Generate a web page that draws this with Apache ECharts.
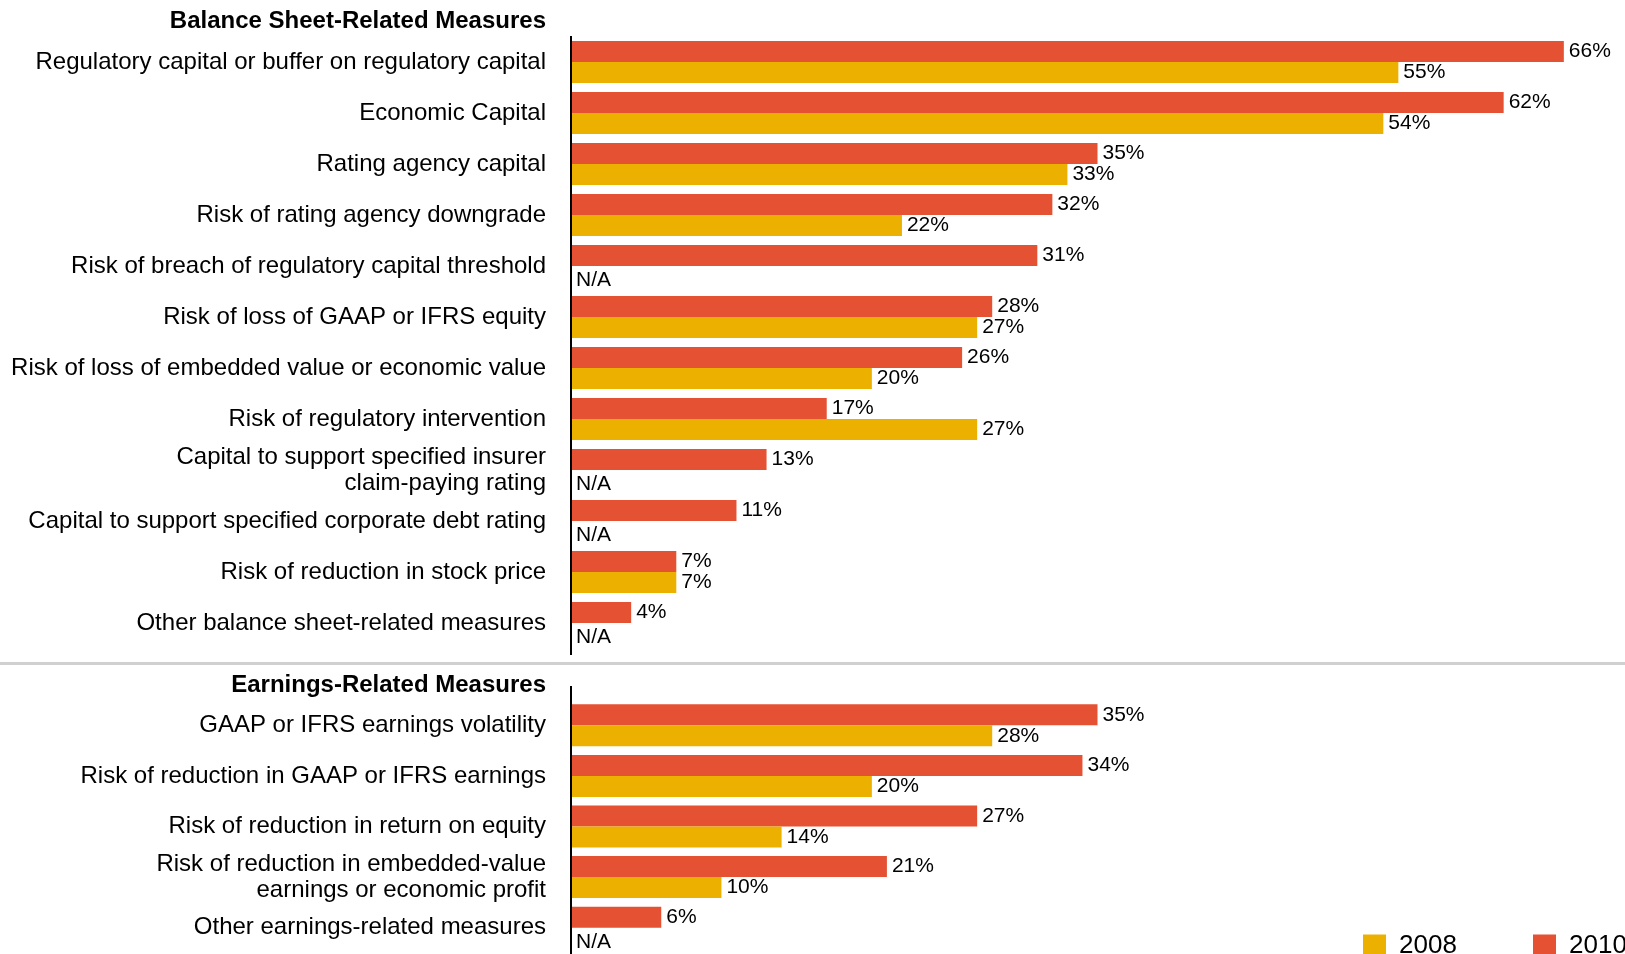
<!DOCTYPE html>
<html>
<head>
<meta charset="utf-8">
<title>Balance Sheet and Earnings-Related Measures</title>
<script src="https://cdn.jsdelivr.net/npm/echarts@6/dist/echarts.min.js"></script>
<style>
  html, body { margin: 0; padding: 0; background: #ffffff; }
  #chart { width: 1625px; height: 954px; }
</style>
</head>
<body>
<div id="chart"></div>
<script>
// Balance sheet-related measures (percent of respondents)
const balanceCategories = [
  'Regulatory capital or buffer on regulatory capital',
  'Economic Capital',
  'Rating agency capital',
  'Risk of rating agency downgrade',
  'Risk of breach of regulatory capital threshold',
  'Risk of loss of GAAP or IFRS equity',
  'Risk of loss of embedded value or economic value',
  'Risk of regulatory intervention',
  'Capital to support specified insurer\nclaim-paying rating',
  'Capital to support specified corporate debt rating',
  'Risk of reduction in stock price',
  'Other balance sheet-related measures'
];
const balance2010 = [66, 62, 35, 32, 31, 28, 26, 17, 13, 11, 7, 4];
const balance2008 = [55, 54, 33, 22, null, 27, 20, 27, null, null, 7, null];

// Earnings-related measures
const earningsCategories = [
  'GAAP or IFRS earnings volatility',
  'Risk of reduction in GAAP or IFRS earnings',
  'Risk of reduction in return on equity',
  'Risk of reduction in embedded-value\nearnings or economic profit',
  'Other earnings-related measures'
];
const earnings2010 = [35, 34, 27, 21, 6];
const earnings2008 = [28, 20, 14, 10, null];

const sectionTitles = ['Balance Sheet-Related Measures', 'Earnings-Related Measures'];
const seriesNames = ['2008', '2010'];

const COLOR_2008 = '#EBB000';
const COLOR_2010 = '#E45133';
const FONT = "'Liberation Sans', Arial, Helvetica, sans-serif";

const W = 1625;
const AXIS_X = 571;
const TOP_GRID = { top: 36.5, height: 612 };
const BOTTOM_GRID = { top: 700, height: 253 };

// Missing responses are drawn as zero-length bars labelled "N/A"
function toData(arr) {
  return arr.map(v => v == null
    ? { value: 0, label: { formatter: 'N/A', offset: [0, 4] } }
    : v);
}

const labelStyle = {
  show: true,
  position: 'right',
  distance: 5,
  color: '#000',
  fontSize: 21,
  fontFamily: FONT,
  formatter: p => p.value + '%'
};

function barSeries(name, data, color, idx) {
  return {
    name: name,
    type: 'bar',
    xAxisIndex: idx,
    yAxisIndex: idx,
    data: toData(data),
    barWidth: 21,
    barGap: '0%',
    itemStyle: { color: color },
    label: labelStyle,
    emphasis: { disabled: true }
  };
}

function catAxis(cats, idx) {
  return {
    type: 'category',
    gridIndex: idx,
    data: cats,
    inverse: true,
    axisLine: { show: false },
    axisTick: { show: false },
    axisLabel: {
      margin: 25,
      color: '#000',
      fontSize: 24,
      lineHeight: 26,
      fontFamily: FONT,
      align: 'right'
    }
  };
}

function valAxis(idx) {
  return {
    type: 'value',
    gridIndex: idx,
    min: 0,
    max: 70,
    show: false
  };
}

function legendItem(name, left) {
  return {
    data: [name],
    left: left,
    top: 933,
    itemWidth: 23,
    itemHeight: 23,
    icon: 'rect',
    padding: 0,
    selectedMode: false,
    textStyle: { fontSize: 26, lineHeight: 23, color: '#000', fontFamily: FONT, padding: [0, 0, 0, 8] }
  };
}

const chart = echarts.init(document.getElementById('chart'), null, { renderer: 'canvas' });

const option = {
  animation: false,
  backgroundColor: '#ffffff',
  textStyle: { fontFamily: FONT },
  title: [
    {
      text: sectionTitles[0],
      right: W - 546,
      top: 8,
      padding: 0,
      textStyle: { fontSize: 24, fontWeight: 'bold', color: '#000', fontFamily: FONT, lineHeight: 26 }
    },
    {
      text: sectionTitles[1],
      right: W - 546,
      top: 672,
      padding: 0,
      textStyle: { fontSize: 24, fontWeight: 'bold', color: '#000', fontFamily: FONT, lineHeight: 26 }
    }
  ],
  legend: [legendItem(seriesNames[0], 1363), legendItem(seriesNames[1], 1533)],
  grid: [
    { left: AXIS_X, right: 1, top: TOP_GRID.top, height: TOP_GRID.height, containLabel: false },
    { left: AXIS_X, right: 1, top: BOTTOM_GRID.top, height: BOTTOM_GRID.height, containLabel: false }
  ],
  xAxis: [valAxis(0), valAxis(1)],
  yAxis: [catAxis(balanceCategories, 0), catAxis(earningsCategories, 1)],
  series: [
    barSeries('2010', balance2010, COLOR_2010, 0),
    barSeries('2008', balance2008, COLOR_2008, 0),
    barSeries('2010', earnings2010, COLOR_2010, 1),
    barSeries('2008', earnings2008, COLOR_2008, 1)
  ],
  graphic: [
    // section divider
    {
      type: 'line',
      shape: { x1: 0, y1: 663.5, x2: W, y2: 663.5 },
      style: { stroke: '#d0d0d0', lineWidth: 3 },
      silent: true
    },
    // vertical baselines of both panels
    {
      type: 'line',
      shape: { x1: AXIS_X, y1: 36, x2: AXIS_X, y2: 655 },
      style: { stroke: '#000', lineWidth: 2 },
      z: 10,
      silent: true
    },
    {
      type: 'line',
      shape: { x1: AXIS_X, y1: 686, x2: AXIS_X, y2: 954 },
      style: { stroke: '#000', lineWidth: 2 },
      z: 10,
      silent: true
    }
  ]
};

chart.setOption(option);
</script>
</body>
</html>
